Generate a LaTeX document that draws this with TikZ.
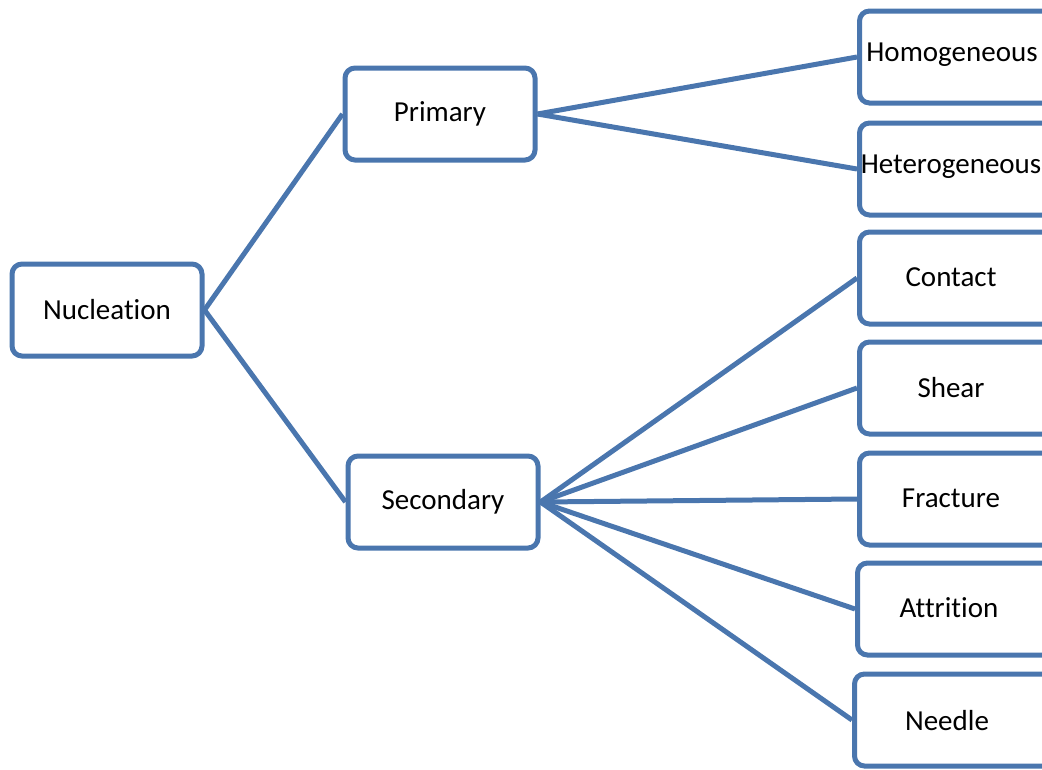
\documentclass[tikz,border=0pt]{standalone}
\usepackage{fontspec}
\setmainfont{Carlito}[Ligatures=NoCommon]
\definecolor{edgeblue}{RGB}{74,118,174}
\begin{document}
\begin{tikzpicture}[x=1pt,y=-1pt,
  box/.style={draw=edgeblue,line width=5pt,rounded corners=10pt,fill=white,
    minimum width=190pt,minimum height=92pt,inner sep=0pt,
    font=\fontsize{29}{34}\selectfont,text=black},
  rbox/.style={box,minimum width=206pt},
  lbl/.style={font=\fontsize{29}{34}\selectfont,text=black,inner sep=0pt},
  link/.style={draw=edgeblue,line width=5pt}]
\useasboundingbox (0,0) rectangle (1042,769);
\clip (0,0) rectangle (1042,769);
\node[box] (nuc) at (107,310) {Nucleation};
\node[box] (pri) at (440,114) {Primary};
\node[box] (sec) at (443,502) {Secondary};
\node[rbox,anchor=west] (hom) at (857,57) {};
\node[rbox,anchor=west] (het) at (857,169) {};
\node[rbox,anchor=west] (con) at (857,278) {};
\node[rbox,anchor=west] (she) at (857,388) {};
\node[rbox,anchor=west] (fra) at (857,499) {};
\node[rbox,anchor=west] (att) at (855,609) {};
\node[rbox,anchor=west] (nee) at (852,720) {};
\node[lbl] (thom) at (952,55) {Homogeneous};
\node[lbl] (thet) at (951,167) {Heterogeneous};
\node[lbl] (tcon) at (951,277) {Contact};
\node[lbl] (tshe) at (951,388) {Shear};
\node[lbl] (tfra) at (951,498) {Fracture};
\node[lbl] (tatt) at (949,608) {Attrition};
\node[lbl] (tnee) at (947,721) {Needle};
\draw[link] (nuc.east) -- (pri.west);
\draw[link] (nuc.east) -- (sec.west);
\draw[link] (pri.east) -- (hom.west);
\draw[link] (pri.east) -- (het.west);
\draw[link] (sec.east) -- (con.west);
\draw[link] (sec.east) -- (she.west);
\draw[link] (sec.east) -- (fra.west);
\draw[link] (sec.east) -- (att.west);
\draw[link] (sec.east) -- (nee.west);
\end{tikzpicture}
\end{document}
